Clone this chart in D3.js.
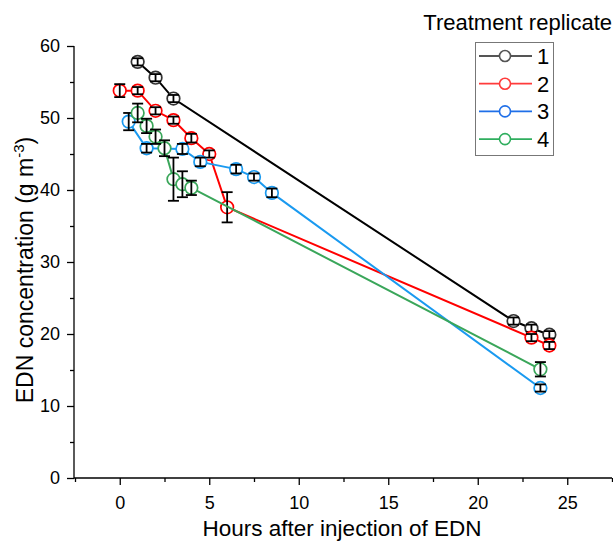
<!DOCTYPE html>
<html>
<head>
<meta charset="utf-8">
<script src="https://cdn.jsdelivr.net/npm/d3@7"></script>
<style>
  html, body { margin: 0; padding: 0; background: #fff; }
  svg { display: block; font-family: "Liberation Sans", Arial, sans-serif; }
</style>
</head>
<body>
<svg id="chart" width="613" height="547"></svg>
<script>
// ---- data ----
const seriesNames = ["1", "2", "3", "4"];
const seriesColors = ["#000000", "#ff0000", "#1a9af0", "#3aa65a"];
const legendColors = ["#555555", "#ff3b3b", "#1f6fe8", "#2fae5e"];

const hours1 = [1, 2, 3, 22, 23, 24];
const conc1  = [57.8, 55.6, 52.7, 21.8, 20.8, 19.9];
const err1   = [0.5, 0.5, 0.5, 0.5, 0.5, 0.5];

const hours2 = [0, 1, 2, 3, 4, 5, 6, 23, 24];
const conc2  = [53.8, 53.8, 51.0, 49.7, 47.2, 45.0, 37.6, 19.5, 18.4];
const err2   = [0.9, 0.5, 0.5, 0.5, 0.6, 0.5, 2.1, 0.5, 0.5];

const hours3 = [0.5, 1.5, 3.5, 4.5, 6.5, 7.5, 8.5, 23.5];
const conc3  = [49.5, 45.8, 45.7, 43.9, 42.9, 41.8, 39.6, 12.5];
const err3   = [1.2, 0.6, 0.7, 0.6, 0.6, 0.5, 0.6, 0.5];

const hours4 = [1, 1.5, 2, 2.5, 3, 3.5, 4, 23.5];
const conc4  = [50.7, 48.9, 47.4, 45.8, 41.5, 40.8, 40.3, 15.1];
const err4   = [1.3, 1.0, 1.0, 1.1, 3.0, 1.8, 1.0, 1.0];

const xMajorTicks = [0, 5, 10, 15, 20, 25];
const xMinorTicks = [-2.5, 2.5, 7.5, 12.5, 17.5, 22.5, 27.5];
const yMajorTicks = [0, 10, 20, 30, 40, 50, 60];
const yMinorTicks = [5, 15, 25, 35, 45, 55];

const xTitle = "Hours after injection of EDN";
const legendTitle = "Treatment replicate";

const series = [
  { name: seriesNames[0], x: hours1, y: conc1, e: err1 },
  { name: seriesNames[1], x: hours2, y: conc2, e: err2 },
  { name: seriesNames[2], x: hours3, y: conc3, e: err3 },
  { name: seriesNames[3], x: hours4, y: conc4, e: err4 }
];

// ---- layout ----
const svg = d3.select("#chart");
const xScale = d3.scaleLinear().domain([-2.5, 27.5]).range([75, 612]);
const yScale = d3.scaleLinear().domain([0, 60]).range([478, 46]);

const axisColor = "#000";
const fontFam = "Liberation Sans, Arial, sans-serif";

// x axis
const gx = svg.append("g").attr("transform", `translate(0,${yScale(0)})`);
gx.append("line").attr("x1", 74).attr("x2", 612).attr("y1", 0).attr("y2", 0)
  .attr("stroke", axisColor).attr("stroke-width", 1.3);
gx.append("g").call(d3.axisBottom(xScale).tickValues(xMajorTicks).tickSize(7).tickPadding(11));
gx.append("g").call(d3.axisBottom(xScale).tickValues(xMinorTicks).tickSize(4).tickFormat(""));
gx.selectAll(".domain").remove();
gx.selectAll(".tick line").attr("stroke", axisColor).attr("stroke-width", 1.3);
gx.selectAll(".tick text").attr("font-size", 18).attr("fill", "#000").attr("font-family", fontFam);

// y axis
const gy = svg.append("g").attr("transform", `translate(74,0)`);
gy.append("line").attr("x1", 0).attr("x2", 0).attr("y1", yScale(60)).attr("y2", yScale(0))
  .attr("stroke", axisColor).attr("stroke-width", 1.3);
gy.append("g").call(d3.axisLeft(yScale).tickValues(yMajorTicks).tickSize(7).tickPadding(7));
gy.append("g").call(d3.axisLeft(yScale).tickValues(yMinorTicks).tickSize(4).tickFormat(""));
gy.selectAll(".domain").remove();
gy.selectAll(".tick line").attr("stroke", axisColor).attr("stroke-width", 1.3);
gy.selectAll(".tick text").attr("font-size", 18).attr("fill", "#000").attr("font-family", fontFam);

// axis titles
svg.append("text").attr("x", 342).attr("y", 536).attr("text-anchor", "middle")
  .attr("font-size", 22.5).attr("fill", "#000").text(xTitle);

const yt = svg.append("text").attr("transform", "translate(33,270) rotate(-90)")
  .attr("text-anchor", "middle").attr("font-size", 23).attr("fill", "#000");
yt.append("tspan").text("EDN concentration (g m");
yt.append("tspan").attr("font-size", 15).attr("dy", -9).text("-3");
yt.append("tspan").attr("dy", 9).text(")");

// series
const line = d3.line().x(d => xScale(d[0])).y(d => yScale(d[1]));
const plot = svg.append("g");

series.forEach((s, i) => {
  const pts = s.x.map((xv, j) => [xv, s.y[j], s.e[j]]);
  const g = plot.append("g");
  g.append("path").datum(pts).attr("d", line).attr("fill", "none")
    .attr("stroke", seriesColors[i]).attr("stroke-width", 2);
  g.selectAll("circle").data(pts).join("circle")
    .attr("cx", d => xScale(d[0])).attr("cy", d => yScale(d[1])).attr("r", 6.3)
    .attr("fill", "#fff").attr("stroke", i === 0 ? "#333" : seriesColors[i]).attr("stroke-width", 1.7);
  const eb = g.selectAll("g.eb").data(pts).join("g").attr("class", "eb");
  eb.append("line")
    .attr("x1", d => xScale(d[0])).attr("x2", d => xScale(d[0]))
    .attr("y1", d => yScale(d[1] + d[2])).attr("y2", d => yScale(d[1] - d[2]))
    .attr("stroke", "#000").attr("stroke-width", 1.8);
  [1, -1].forEach(sg => {
    eb.append("line")
      .attr("x1", d => xScale(d[0]) - 5.5).attr("x2", d => xScale(d[0]) + 5.5)
      .attr("y1", d => yScale(d[1] + sg * d[2])).attr("y2", d => yScale(d[1] + sg * d[2]))
      .attr("stroke", "#000").attr("stroke-width", 1.8);
  });
});

// legend
svg.append("text").attr("x", 612).attr("y", 30).attr("text-anchor", "end")
  .attr("font-size", 22).attr("fill", "#000").text(legendTitle);
const lg = svg.append("g");
lg.append("rect").attr("x", 475.5).attr("y", 42.5).attr("width", 78).attr("height", 113)
  .attr("fill", "#fff").attr("stroke", "#777").attr("stroke-width", 1);
seriesNames.forEach((n, i) => {
  const yy = 56 + i * 27.7;
  lg.append("line").attr("x1", 479).attr("x2", 532).attr("y1", yy).attr("y2", yy)
    .attr("stroke", legendColors[i]).attr("stroke-width", 1.8);
  lg.append("circle").attr("cx", 505).attr("cy", yy).attr("r", 5.5)
    .attr("fill", "#fff").attr("stroke", legendColors[i]).attr("stroke-width", 1.6);
  lg.append("text").attr("x", 537).attr("y", yy + 8).attr("font-size", 22)
    .attr("fill", "#000").text(n);
});
</script>
</body>
</html>
